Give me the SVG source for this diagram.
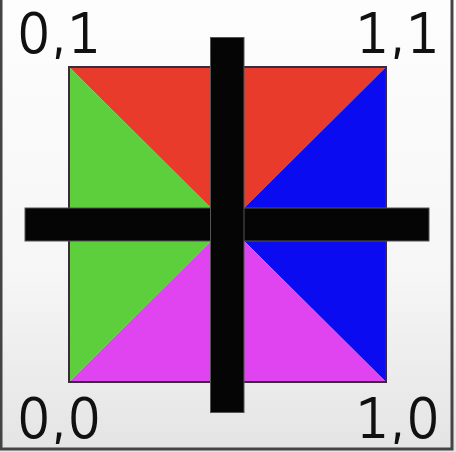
<svg xmlns="http://www.w3.org/2000/svg" width="456" height="452" viewBox="0 0 456 452">
<defs>
<linearGradient id="bg" x1="0" y1="0" x2="0" y2="1">
<stop offset="0" stop-color="#fdfdfd"/>
<stop offset="0.6" stop-color="#f6f6f6"/>
<stop offset="1" stop-color="#e4e4e4"/>
</linearGradient>
</defs>
<style>
.lbl{font-family:"DejaVu Sans",sans-serif;font-weight:200;font-size:53px;fill:#111;stroke:#111;stroke-width:1.8px}
.bar{fill:#050505;stroke:#555;stroke-width:1}
</style>
<rect x="0" y="0" width="456" height="452" fill="url(#bg)"/>
<rect x="1" y="-2" width="451" height="451" fill="none" stroke="#444" stroke-width="3"/>
<g id="square">
<polygon points="69,67 386,67 227.5,224.5" fill="#e83b2b"/>
<polygon points="386,67 386,382 227.5,224.5" fill="#0b0bf2"/>
<polygon points="69,382 386,382 227.5,224.5" fill="#e043f0"/>
<polygon points="69,67 69,382 227.5,224.5" fill="#5dcf3c"/>
<rect x="69" y="67" width="317" height="315" fill="none" stroke="#3a2a3a" stroke-width="2"/>
</g>
<g id="cross">
<rect class="bar" x="25" y="208" width="404" height="33"/>
<rect class="bar" x="210.5" y="37.5" width="33.5" height="375"/>
</g>
<g id="labels">
<text class="lbl" x="17" y="52">0,1</text>
<text class="lbl" x="440" y="52" text-anchor="end">1,1</text>
<text class="lbl" x="17" y="437">0,0</text>
<text class="lbl" x="440" y="437" text-anchor="end">1,0</text>
</g>
</svg>
